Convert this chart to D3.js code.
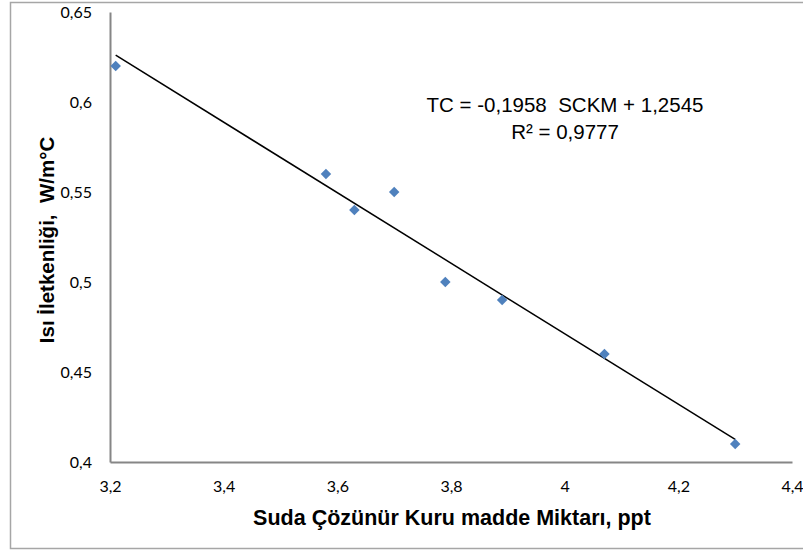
<!DOCTYPE html>
<html>
<head>
<meta charset="utf-8">
<script src="https://cdn.jsdelivr.net/npm/d3@7"></script>
<style>
  body { margin: 0; background: #fff; }
  svg { display: block; }
  text { white-space: pre; }
</style>
</head>
<body>
<div id="chart"></div>
<script>
// data
const scValues = [3.21, 3.58, 3.63, 3.70, 3.79, 3.89, 4.07, 4.30];
const tcValues = [0.62, 0.56, 0.54, 0.55, 0.50, 0.49, 0.46, 0.41];
const xTicks = [3.2, 3.4, 3.6, 3.8, 4.0, 4.2, 4.4];
const yTicks = [0.4, 0.45, 0.5, 0.55, 0.6, 0.65];
const slope = -0.1958;
const intercept = 1.2545;
const eqLines = ['TC = -0,1958  SCKM + 1,2545', 'R² = 0,9777'];
const xTitle = 'Suda Çözünür Kuru madde Miktarı, ppt';
const yTitle = 'Isı İletkenliği,  W/m°C';

const width = 803, height = 551;
const margin = { t: 12, r: 11, b: 89, l: 110 };

const svg = d3.select('#chart').append('svg')
  .attr('width', width)
  .attr('height', height)
  .attr('viewBox', [0, 0, width, height]);

// outer chart border
svg.append('rect')
  .attr('x', 10.5).attr('y', 2.5)
  .attr('width', 800).attr('height', 546)
  .attr('fill', 'none')
  .attr('stroke', '#a6a6a6')
  .attr('stroke-width', 1.5);

const x = d3.scaleLinear().domain([3.2, 4.4]).range([margin.l, width - margin.r]);
const y = d3.scaleLinear().domain([0.4, 0.65]).range([height - margin.b, margin.t]);

const fmt = (d) => d3.format('~g')(+d.toFixed(2)).replace('.', ',');
const tickFont = 'Lato, "Open Sans", sans-serif';
const titleFont = '"Liberation Sans", Arial, sans-serif';

// x axis
svg.append('g')
  .attr('transform', `translate(0,${y(0.4)})`)
  .call(d3.axisBottom(x).tickValues(xTicks).tickSize(0).tickPadding(19).tickFormat(fmt))
  .call(g => g.select('.domain').attr('stroke', '#868686').attr('stroke-width', 2))
  .call(g => g.selectAll('text')
    .attr('font-family', tickFont)
    .attr('font-size', 16)
    .attr('fill', '#000'));

// y axis
svg.append('g')
  .attr('transform', `translate(${x(3.2)},0)`)
  .call(d3.axisLeft(y).tickValues(yTicks).tickSize(0).tickPadding(18).tickFormat(fmt))
  .call(g => g.select('.domain').attr('stroke', '#868686').attr('stroke-width', 2))
  .call(g => g.selectAll('text')
    .attr('font-family', tickFont)
    .attr('font-size', 16)
    .attr('fill', '#000'));

// trend line
const xs = d3.extent(scValues);
svg.append('line')
  .attr('x1', x(xs[0])).attr('y1', y(slope * xs[0] + intercept))
  .attr('x2', x(xs[1])).attr('y2', y(slope * xs[1] + intercept))
  .attr('stroke', '#000')
  .attr('stroke-width', 1.5);

// points
const diamond = d3.symbol().type(d3.symbolDiamond2).size(70);
svg.append('g')
  .selectAll('path')
  .data(scValues.map((v, i) => ({ x: v, y: tcValues[i] })))
  .join('path')
  .attr('transform', (d) => `translate(${x(d.x)},${y(d.y)})`)
  .attr('d', diamond)
  .attr('fill', '#4f81bd');

// equation
svg.append('text')
  .attr('x', 565).attr('y', 112)
  .attr('text-anchor', 'middle')
  .attr('font-family', titleFont)
  .attr('font-size', 20.5)
  .selectAll('tspan')
  .data(eqLines)
  .join('tspan')
  .attr('x', 565)
  .attr('dy', (_, i) => i === 0 ? 0 : 27)
  .text((d) => d);

// axis titles
svg.append('text')
  .attr('x', 452).attr('y', 525)
  .attr('text-anchor', 'middle')
  .attr('font-family', titleFont)
  .attr('font-weight', 'bold')
  .attr('font-size', 21.5)
  .text(xTitle);

svg.append('text')
  .attr('transform', 'translate(54,240) rotate(-90)')
  .attr('text-anchor', 'middle')
  .attr('font-family', titleFont)
  .attr('font-weight', 'bold')
  .attr('font-size', 20.5)
  .text(yTitle);
</script>
</body>
</html>
